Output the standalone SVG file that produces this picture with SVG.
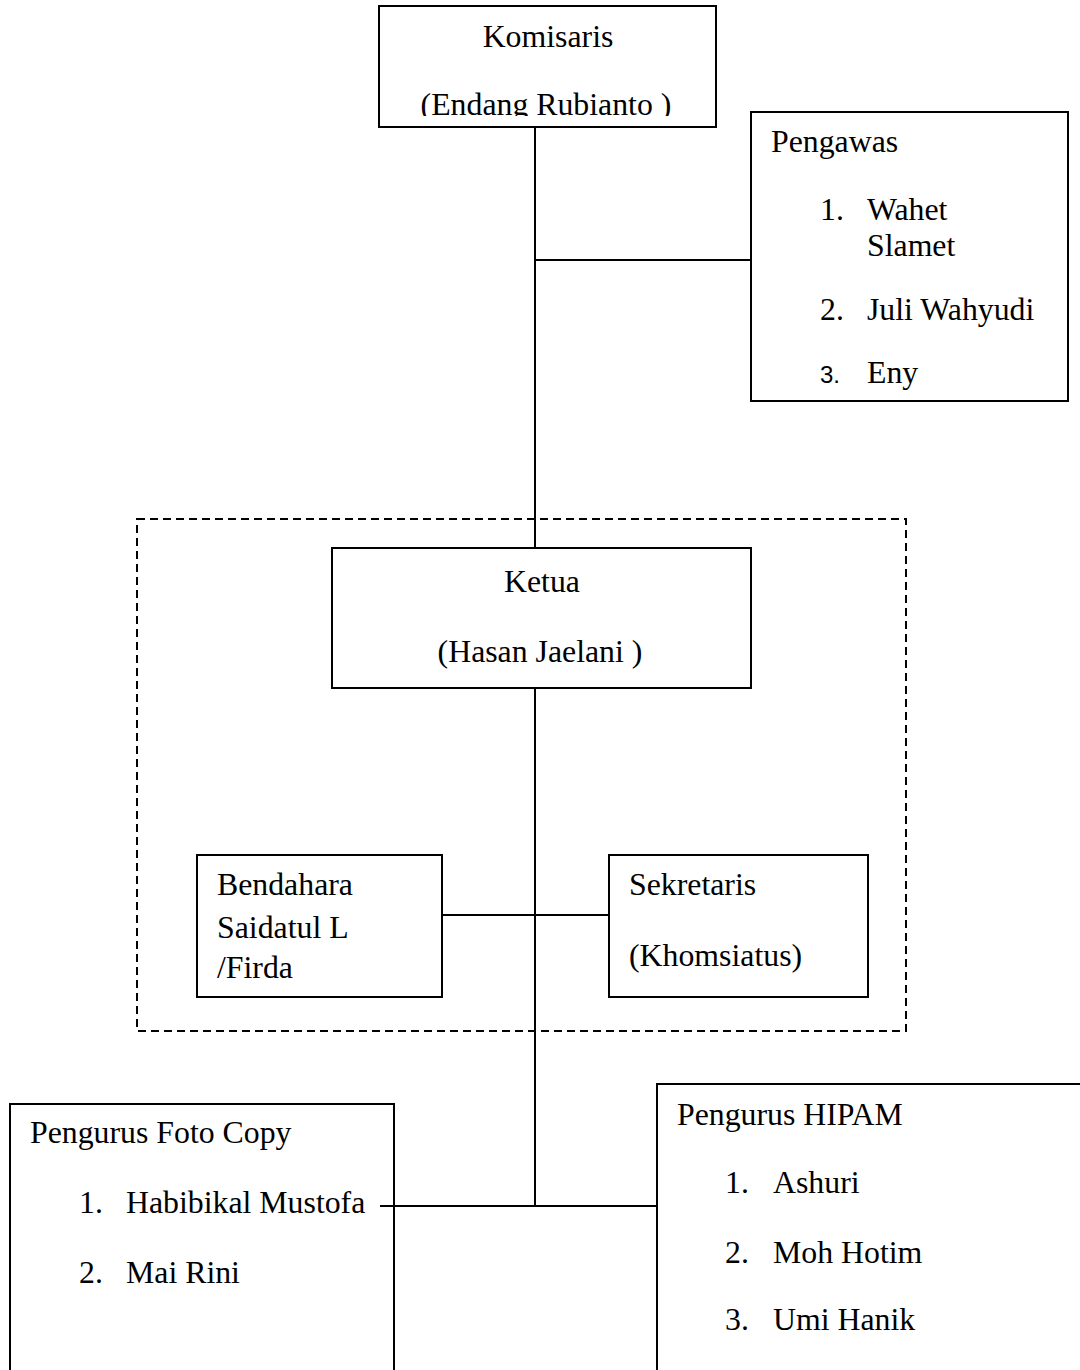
<svg xmlns="http://www.w3.org/2000/svg" width="1080" height="1370" viewBox="0 0 1080 1370">
<style>
.box{fill:#fff;stroke:#000;stroke-width:2}
.dash{fill:none;stroke:#000;stroke-width:2;stroke-dasharray:8 5}
.ln{stroke:#000;stroke-width:2;fill:none}
text{font-family:"Liberation Serif","Times New Roman",serif;font-size:31.8px;fill:#000}
.c{text-anchor:middle}
.sans{font-family:"Liberation Sans",Arial,sans-serif;font-size:24px}
</style>
<defs>
<clipPath id="kclip"><rect x="379" y="6" width="337" height="110"/></clipPath>
</defs>
<rect id="ketua-group" class="dash" x="137" y="519" width="769" height="512"/>
<g id="komisaris">
<rect class="box" x="379" y="6" width="337" height="121"/>
<text class="c" x="548" y="47">Komisaris</text>
<text class="c" x="546" y="115" clip-path="url(#kclip)">(Endang Rubianto )</text>
</g>
<g id="pengawas">
<rect class="box" x="751" y="112" width="317" height="289"/>
<text x="771" y="152">Pengawas</text>
<text x="820" y="220">1.</text><text x="867" y="220">Wahet</text>
<text x="867" y="256">Slamet</text>
<text x="820" y="320">2.</text><text x="867" y="320">Juli Wahyudi</text>
<text class="sans" x="820" y="383">3.</text><text x="867" y="383">Eny</text>
</g>
<g id="ketua">
<rect class="box" x="332" y="548" width="419" height="140"/>
<text class="c" x="542" y="592">Ketua</text>
<text class="c" x="540" y="662">(Hasan Jaelani )</text>
</g>
<g id="bendahara">
<rect class="box" x="197" y="855" width="245" height="142"/>
<text x="217" y="895">Bendahara</text>
<text x="217" y="938">Saidatul L</text>
<text x="217" y="978">/Firda</text>
</g>
<g id="sekretaris">
<rect class="box" x="609" y="855" width="259" height="142"/>
<text x="629" y="895">Sekretaris</text>
<text x="629" y="966">(Khomsiatus)</text>
</g>
<g id="foto-copy">
<rect class="box" x="10" y="1104" width="384" height="300"/>
<text x="30" y="1143">Pengurus Foto Copy</text>
<text x="79" y="1213">1.</text><text x="126" y="1213">Habibikal Mustofa</text>
<text x="79" y="1283">2.</text><text x="126" y="1283">Mai Rini</text>
</g>
<g id="hipam">
<rect class="box" x="657" y="1084" width="440" height="320"/>
<text x="677" y="1125">Pengurus HIPAM</text>
<text x="725" y="1193">1.</text><text x="773" y="1193">Ashuri</text>
<text x="725" y="1263">2.</text><text x="773" y="1263">Moh Hotim</text>
<text x="725" y="1330">3.</text><text x="773" y="1330">Umi Hanik</text>
</g>
<g id="connectors">
<line class="ln" x1="535" y1="127" x2="535" y2="548"/>
<line class="ln" x1="535" y1="260" x2="751" y2="260"/>
<line class="ln" x1="535" y1="688" x2="535" y2="1206"/>
<line class="ln" x1="442" y1="915" x2="609" y2="915"/>
<line class="ln" x1="380" y1="1206" x2="657" y2="1206"/>
</g>
</svg>
